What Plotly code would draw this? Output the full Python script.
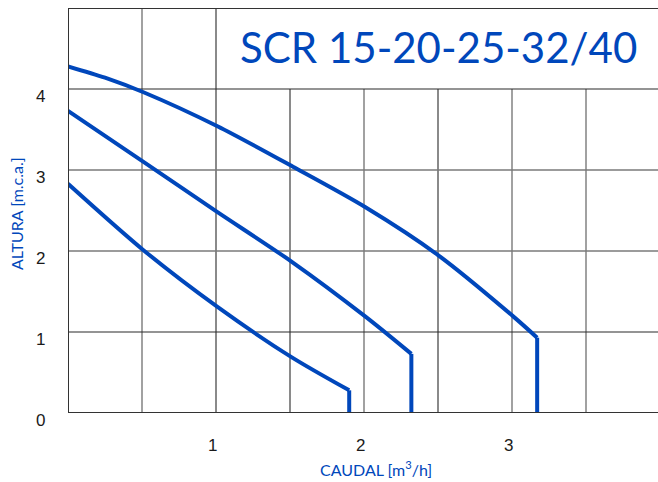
import plotly.graph_objects as go

# Pump curves: SCR 15-20-25-32/40 (caudal m3/h, altura m.c.a.)
curve1_q = [0.0, 0.25, 0.51, 1.01, 1.52, 2.01, 2.50, 3.01, 3.17, 3.17]
curve1_h = [4.28, 4.14, 3.96, 3.54, 3.04, 2.54, 1.95, 1.19, 0.93, 0.0]
curve2_q = [0.0, 0.51, 1.01, 1.51, 2.01, 2.32, 2.32]
curve2_h = [3.73, 3.10, 2.48, 1.87, 1.19, 0.73, 0.0]
curve3_q = [0.0, 0.51, 1.01, 1.51, 1.90, 1.90]
curve3_h = [2.83, 2.01, 1.31, 0.69, 0.28, 0.0]

x_ticks = [1, 2, 3]
x_tick_labels = ["1", "2", "3"]
y_ticks = [0, 1, 2, 3, 4]
y_tick_labels = ["0", "1", "2", "3", "4"]

x_grid_dark = [1.0, 1.5, 2.5]
x_grid_gray = [0.5, 2.0, 3.0, 3.5]
y_grid_dark = [1, 4]
y_grid_gray = [2, 3]

title_text = "SCR 15-20-25-32/40"
x_title = "CAUDAL [m<sup>3</sup>/h]"
y_title = "ALTURA [m.c.a.]"

BLUE = "#0047BB"
XMAX = 590 / 148
YMAX = 5

fig = go.Figure()
for q, h in [(curve1_q, curve1_h), (curve2_q, curve2_h), (curve3_q, curve3_h)]:
    # smooth curve section
    fig.add_trace(go.Scatter(x=q[:-1], y=h[:-1], mode="lines",
                             line=dict(color=BLUE, width=4, shape="spline", smoothing=0.8),
                             showlegend=False, hoverinfo="skip"))
    # vertical drop at end of curve
    fig.add_trace(go.Scatter(x=q[-2:], y=h[-2:], mode="lines",
                             line=dict(color=BLUE, width=4),
                             showlegend=False, hoverinfo="skip"))

shapes = []
def vline(x, color, w):
    top = YMAX if x <= 1.0 else 4
    shapes.append(dict(type="line", xref="x", yref="y", x0=x, x1=x, y0=0, y1=top,
                       line=dict(color=color, width=w), layer="below"))
def hline(y, color, w):
    shapes.append(dict(type="line", xref="x", yref="y", x0=0, x1=XMAX, y0=y, y1=y,
                       line=dict(color=color, width=w), layer="below"))

for x in x_grid_dark:
    vline(x, "#2a2a2a", 1.1)
for x in x_grid_gray:
    vline(x, "#8a8a8a", 1.6)
for y in y_grid_dark:
    hline(y, "#2a2a2a", 1.1)
for y in y_grid_gray:
    hline(y, "#7a7a7a", 1.6)

# frame
shapes.append(dict(type="line", xref="x", yref="y", x0=0, x1=0, y0=0, y1=YMAX,
                   line=dict(color="#333", width=2)))
shapes.append(dict(type="line", xref="x", yref="y", x0=0, x1=XMAX, y0=0, y1=0,
                   line=dict(color="#333", width=2)))
shapes.append(dict(type="line", xref="x", yref="y", x0=0, x1=XMAX, y0=YMAX, y1=YMAX,
                   line=dict(color="#333", width=2)))

annotations = []
for v, t in zip(x_ticks, x_tick_labels):
    annotations.append(dict(x=v, y=0, xref="x", yref="y", text=t, showarrow=False,
                            xshift=-4, yshift=-32,
                            font=dict(family="Liberation Sans, Arial", size=17, color="#1a1a1a")))
for v, t in zip(y_ticks, y_tick_labels):
    annotations.append(dict(x=0, y=v, xref="x", yref="y", text=t, showarrow=False,
                            xshift=-28, yshift=-7,
                            font=dict(family="Liberation Sans, Arial", size=17, color="#1a1a1a")))

annotations.append(dict(x=(438 - 68) / 590, y=4.5, xref="paper", yref="y", text=title_text,
                        showarrow=False, xanchor="center", yanchor="middle", yshift=2,
                        font=dict(family="Lato, Open Sans", size=42, color=BLUE)))
annotations.append(dict(x=(376 - 68) / 590, y=0, xref="paper", yref="y", text=x_title,
                        showarrow=False, yshift=-55,
                        font=dict(family="Lato, Open Sans", size=16, color=BLUE)))
annotations.append(dict(x=0, y=(413 - 214) / 405, xref="x", yref="paper", text=y_title,
                        showarrow=False, textangle=-90, xshift=-52,
                        font=dict(family="Lato, Open Sans", size=16, color=BLUE)))

fig.update_layout(
    width=658, height=482,
    margin=dict(l=68, r=0, t=8, b=69),
    paper_bgcolor="white", plot_bgcolor="white",
    xaxis=dict(range=[0, XMAX], showgrid=False, zeroline=False, showticklabels=False,
               ticks="", showline=False, fixedrange=True),
    yaxis=dict(range=[0, YMAX], showgrid=False, zeroline=False, showticklabels=False,
               ticks="", showline=False, fixedrange=True),
    shapes=shapes, annotations=annotations,
)

fig.write_html("out.html", config={"displayModeBar": False},
               post_script="document.body.style.margin='0';")
